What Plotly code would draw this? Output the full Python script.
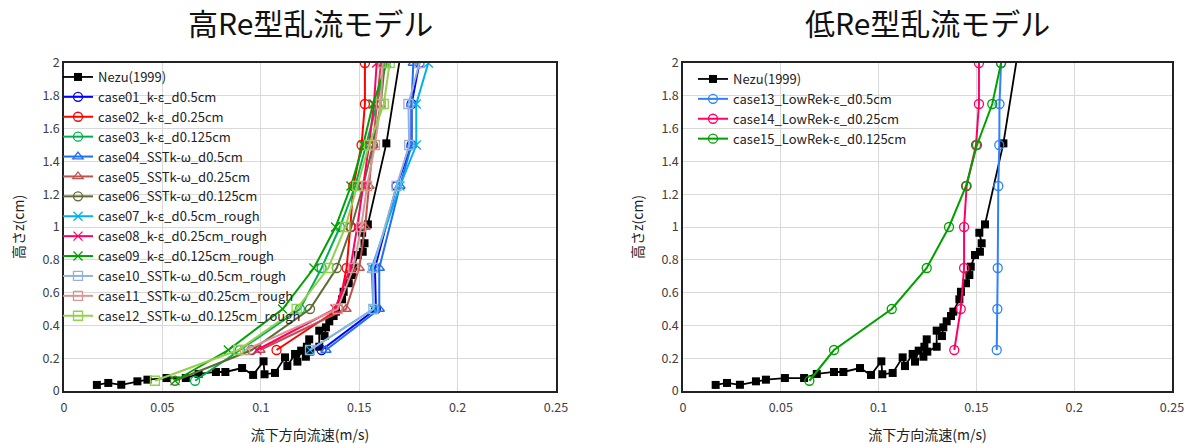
import plotly.graph_objects as go

# ---------------- data ----------------
nezu_v = [0.0167, 0.0225, 0.0291, 0.0373, 0.0424, 0.0521, 0.0619, 0.0684, 0.0772, 0.0820,
          0.0905, 0.0961, 0.1014, 0.1019, 0.1072, 0.1123, 0.1135, 0.1174, 0.1186, 0.1205,
          0.1229, 0.1234, 0.1246, 0.1249, 0.1297, 0.1297, 0.1324, 0.1331, 0.1348, 0.1370,
          0.1382, 0.1413, 0.1421, 0.1447, 0.1464, 0.1471, 0.1493, 0.1518, 0.1527, 0.1515,
          0.1544, 0.1638, 0.1770]
nezu_z = [0.037, 0.049, 0.038, 0.059, 0.069, 0.079, 0.079, 0.104, 0.116, 0.116,
          0.140, 0.098, 0.181, 0.102, 0.110, 0.205, 0.152, 0.226, 0.179, 0.246,
          0.209, 0.270, 0.315, 0.240, 0.270, 0.368, 0.335, 0.388, 0.425, 0.457,
          0.484, 0.559, 0.605, 0.657, 0.707, 0.758, 0.829, 0.849, 0.901, 0.965,
          1.016, 1.510, 2.500]

z_d05 = [0.25, 0.5, 0.75, 1.25, 1.5, 1.75, 2.0]
z_d025 = [0.25, 0.5, 0.75, 1.0, 1.25, 1.5, 1.75, 2.0]
z_d0125 = [0.0625, 0.25, 0.5, 0.75, 1.0, 1.25, 1.5, 1.75, 2.0]

case01 = [0.1309, 0.1585, 0.1580, 0.1690, 0.1766, 0.1766, 0.1806]
case02 = [0.1080, 0.1395, 0.1436, 0.1455, 0.1470, 0.1512, 0.1529, 0.1529]
case03 = [0.0666, 0.0893, 0.1199, 0.1309, 0.1402, 0.1480, 0.1535, 0.1590, 0.1635]
case04 = [0.1331, 0.1602, 0.1602, 0.1707, 0.1766, 0.1766, 0.1775]
case05 = [0.0996, 0.1433, 0.1500, 0.1530, 0.1550, 0.1570, 0.1590, 0.1610]
case06 = [0.0564, 0.0954, 0.1250, 0.1386, 0.1460, 0.1520, 0.1570, 0.1610, 0.1630]
case07 = [0.1250, 0.1572, 0.1563, 0.1707, 0.1790, 0.1790, 0.1851]
case08 = [0.0980, 0.1377, 0.1455, 0.1490, 0.1520, 0.1550, 0.1575, 0.1589]
case09 = [0.0564, 0.0835, 0.1111, 0.1270, 0.1380, 0.1458, 0.1520, 0.1570, 0.1640]
case10 = [0.1250, 0.1572, 0.1570, 0.1690, 0.1754, 0.1750, 0.1806]
case11 = [0.0920, 0.1390, 0.1470, 0.1510, 0.1540, 0.1580, 0.1610, 0.1620]
case12 = [0.0462, 0.0886, 0.1182, 0.1343, 0.1430, 0.1490, 0.1550, 0.1625, 0.1655]

case13 = [0.1604, 0.1607, 0.1609, 0.1612, 0.1617, 0.1618, 0.1626]
case14 = [0.1387, 0.1420, 0.1437, 0.1437, 0.1450, 0.1498, 0.1513, 0.1513]
case15 = [0.0646, 0.0772, 0.1067, 0.1246, 0.1360, 0.1447, 0.1503, 0.1581, 0.1626]

titles = ["高Re型乱流モデル", "低Re型乱流モデル"]
x_title = "流下方向流速(m/s)"
y_title = "高さz(cm)"

left_series = [
    ("case01_k-ε_d0.5cm", z_d05, case01, "#0000FF", "circle-open"),
    ("case02_k-ε_d0.25cm", z_d025, case02, "#FF0000", "circle-open"),
    ("case03_k-ε_d0.125cm", z_d0125, case03, "#00B050", "circle-open"),
    ("case04_SSTk-ω_d0.5cm", z_d05, case04, "#1F6FF0", "triangle-up-open"),
    ("case05_SSTk-ω_d0.25cm", z_d025, case05, "#C0504D", "triangle-up-open"),
    ("case06_SSTk-ω_d0.125cm", z_d0125, case06, "#5E6B32", "circle-open"),
    ("case07_k-ε_d0.5cm_rough", z_d05, case07, "#00B0F0", "x-thin-open"),
    ("case08_k-ε_d0.25cm_rough", z_d025, case08, "#FF0066", "x-thin-open"),
    ("case09_k-ε_d0.125cm_rough", z_d0125, case09, "#00A000", "x-thin-open"),
    ("case10_SSTk-ω_d0.5cm_rough", z_d05, case10, "#95B3D7", "square-open"),
    ("case11_SSTk-ω_d0.25cm_rough", z_d025, case11, "#DA9694", "square-open"),
    ("case12_SSTk-ω_d0.125cm_rough", z_d0125, case12, "#92D050", "square-open"),
]
right_series = [
    ("case13_LowRek-ε_d0.5cm", z_d05, case13, "#2F80FF", "circle-open"),
    ("case14_LowRek-ε_d0.25cm", z_d025, case14, "#FF0066", "circle-open"),
    ("case15_LowRek-ε_d0.125cm", z_d0125, case15, "#00A000", "circle-open"),
]

FONT = "Noto Sans CJK JP"

fig = go.Figure()

def add_nezu(xa, ya, legend):
    fig.add_trace(go.Scatter(
        x=nezu_v, y=nezu_z, mode="lines+markers", name="Nezu(1999)",
        xaxis=xa, yaxis=ya, legend=legend,
        line=dict(color="black", width=1.8),
        marker=dict(symbol="square", size=8, color="black")))

def add_series(series, xa, ya, legend):
    for name, z, v, col, sym in series:
        fig.add_trace(go.Scatter(
            x=v, y=z, mode="lines+markers", name=name,
            xaxis=xa, yaxis=ya, legend=legend,
            line=dict(color=col, width=2),
            marker=dict(symbol=sym, size=9, color=col, line=dict(color=col, width=1.3))))

add_nezu("x", "y", "legend")
add_series(left_series, "x", "y", "legend")
add_nezu("x2", "y2", "legend2")
add_series(right_series, "x2", "y2", "legend2")

axis_common = dict(
    showgrid=True, gridcolor="#D9D9D9", gridwidth=1,
    showline=True, linecolor="#222222", linewidth=1.5, mirror=True,
    zeroline=False, ticks="", automargin=False,
    tickfont=dict(family=FONT, size=12.5, color="#404040"),
)
title_font = dict(family=FONT, size=14, color="#222222")

ydom = [53 / 444, 381 / 444]
fig.update_layout(
    width=1191, height=444,
    margin=dict(l=0, r=0, t=0, b=0, autoexpand=False),
    paper_bgcolor="white", plot_bgcolor="white",
    font=dict(family=FONT, color="#222222"),
    showlegend=True,
    xaxis=dict(domain=[64 / 1191, 556 / 1191], anchor="y", range=[0, 0.25], dtick=0.05,
               ticklabelstandoff=4,
               title=dict(text=x_title, font=title_font, standoff=16), **axis_common),
    yaxis=dict(domain=ydom, anchor="x", range=[0, 2], dtick=0.2,
               title=dict(text=y_title, font=title_font, standoff=14), **axis_common),
    xaxis2=dict(domain=[683 / 1191, 1172 / 1191], anchor="y2", range=[0, 0.25], dtick=0.05,
                ticklabelstandoff=4,
                title=dict(text=x_title, font=title_font, standoff=16), **axis_common),
    yaxis2=dict(domain=ydom, anchor="x2", range=[0, 2], dtick=0.2,
                title=dict(text=y_title, font=title_font, standoff=14), **axis_common),
    legend=dict(x=58 / 1191, y=(444 - 62) / 444, xanchor="left", yanchor="top",
                bgcolor="rgba(0,0,0,0)", font=dict(family=FONT, size=13, color="#222222"),
                tracegroupgap=0, itemwidth=30),
    legend2=dict(x=693 / 1191, y=(444 - 64) / 444, xanchor="left", yanchor="top",
                 bgcolor="rgba(0,0,0,0)", font=dict(family=FONT, size=13, color="#222222"),
                 tracegroupgap=0, itemwidth=30),
    annotations=[
        dict(text=titles[0], x=310 / 1191, y=1 - 22 / 444, xref="paper", yref="paper",
             showarrow=False, xanchor="center", yanchor="middle",
             font=dict(family=FONT, size=30, color="#111111")),
        dict(text=titles[1], x=927 / 1191, y=1 - 22 / 444, xref="paper", yref="paper",
             showarrow=False, xanchor="center", yanchor="middle",
             font=dict(family=FONT, size=30, color="#111111")),
    ],
)

fig.write_html("out.html")
